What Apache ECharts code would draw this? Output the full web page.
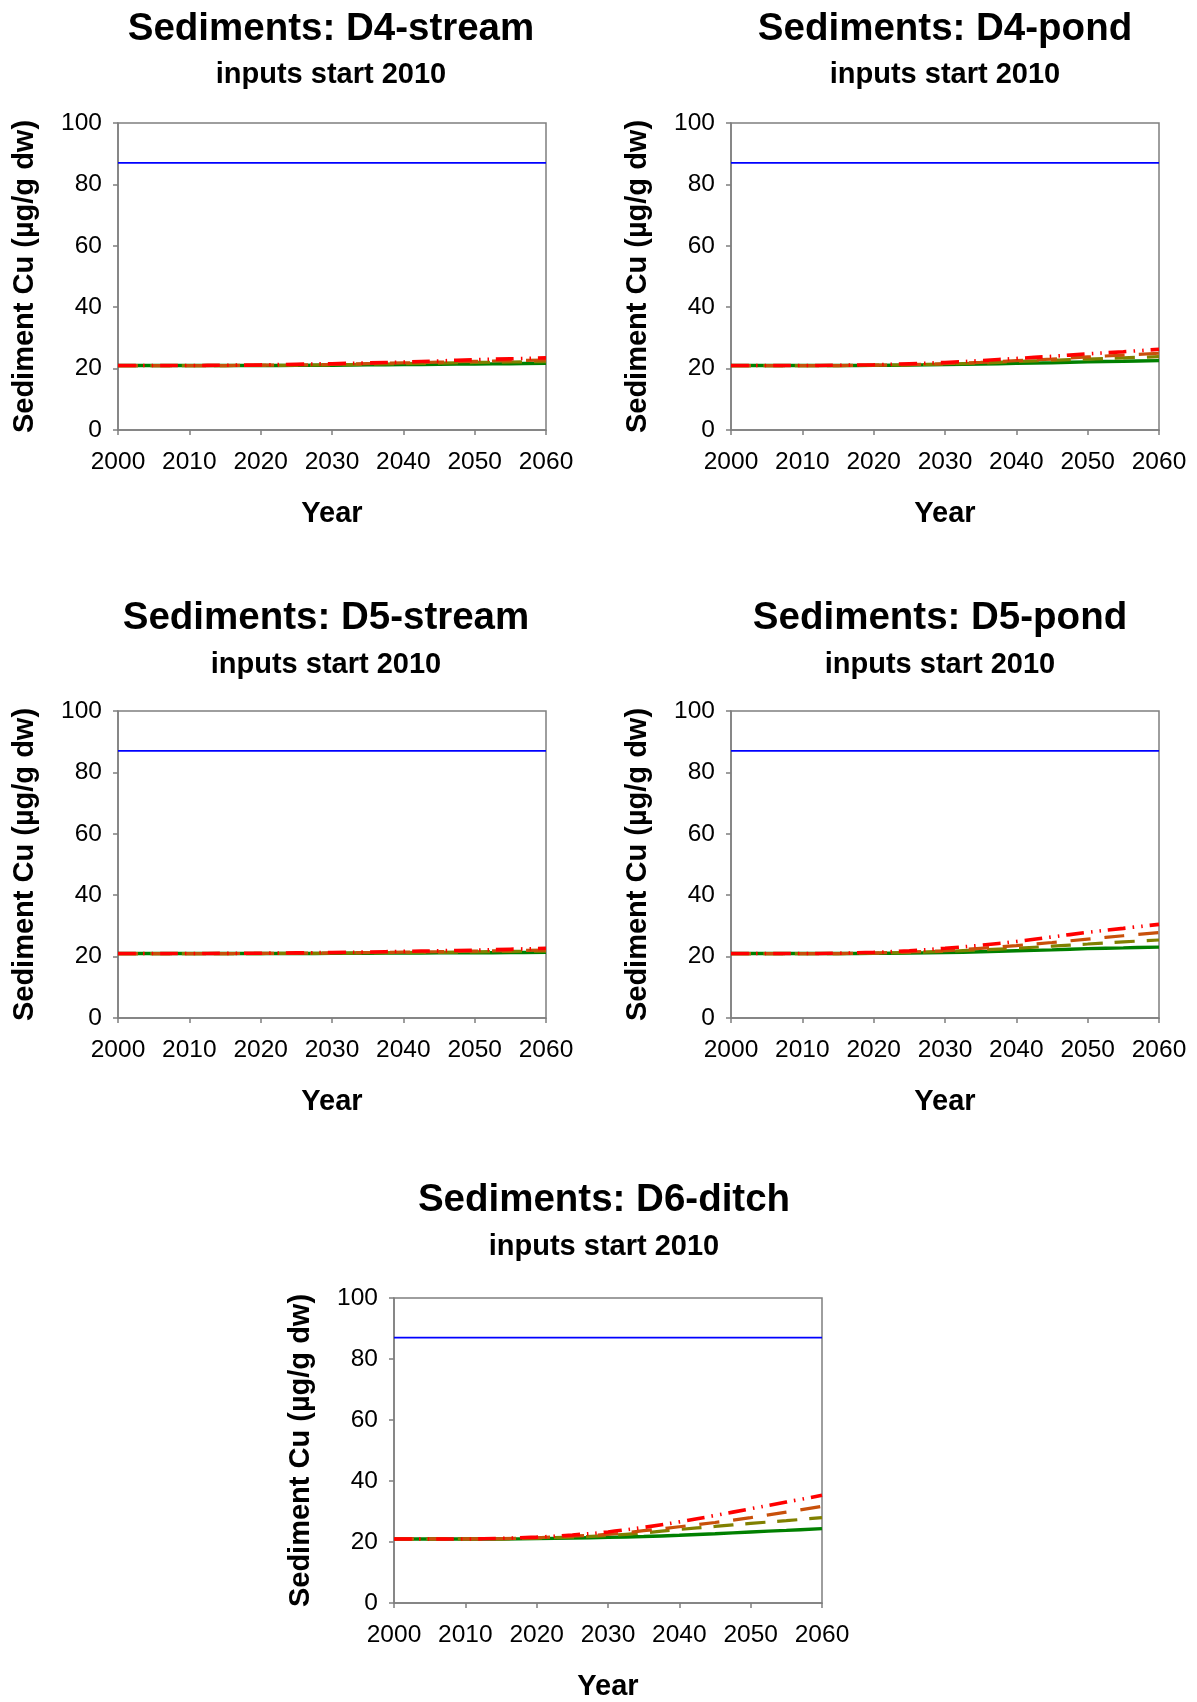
<!DOCTYPE html>
<html>
<head>
<meta charset="utf-8">
<style>
  html, body { margin: 0; padding: 0; background: #ffffff; }
  #chart { width: 1197px; height: 1702px; }
</style>
<script src="https://cdn.jsdelivr.net/npm/echarts@6/dist/echarts.min.js"></script>
</head>
<body>
<div id="chart"></div>
<script>
// ---------------- DATA ----------------
const years = [2000, 2005, 2010, 2015, 2020, 2025, 2030, 2035, 2040, 2045, 2050, 2055, 2060];
const xTicks = [2000, 2010, 2020, 2030, 2040, 2050, 2060];
const yTicks = [0, 20, 40, 60, 80, 100];
const thresholdYears = [2000, 2060];
const thresholdValues = [87, 87];

const panelTitles = ["Sediments: D4-stream", "Sediments: D4-pond", "Sediments: D5-stream", "Sediments: D5-pond", "Sediments: D6-ditch"];
const panelSubtitle = "inputs start 2010";
const xAxisTitle = "Year";
const yAxisTitle = "Sediment Cu (µg/g dw)";

// D4-stream
const d4StreamGreen = [21, 21, 21, 21, 21, 21.05, 21.1, 21.2, 21.3, 21.4, 21.5, 21.6, 21.7];
const d4StreamOlive = [21, 21, 21, 21, 21.05, 21.1, 21.25, 21.4, 21.6, 21.8, 22.0, 22.15, 22.3];
const d4StreamBrown = [21, 21, 21, 21, 21.1, 21.2, 21.35, 21.6, 21.85, 22.1, 22.35, 22.6, 22.8];
const d4StreamRed   = [21, 21, 21, 21.1, 21.2, 21.4, 21.6, 21.85, 22.1, 22.5, 22.9, 23.2, 23.5];
// D4-pond
const d4PondGreen = [21, 21, 21, 21, 21.05, 21.15, 21.3, 21.45, 21.7, 21.9, 22.2, 22.4, 22.6];
const d4PondOlive = [21, 21, 21, 21, 21.1, 21.25, 21.5, 21.8, 22.3, 22.7, 23.1, 23.5, 23.9];
const d4PondBrown = [21, 21, 21, 21, 21.1, 21.3, 21.6, 22.0, 22.6, 23.1, 23.8, 24.4, 25.0];
const d4PondRed   = [21, 21, 21, 21.1, 21.25, 21.6, 22.0, 22.6, 23.3, 24.0, 24.8, 25.5, 26.3];
// D5-stream
const d5StreamGreen = [21, 21, 21, 21, 21, 21, 21.05, 21.1, 21.15, 21.2, 21.25, 21.3, 21.4];
const d5StreamOlive = [21, 21, 21, 21, 21, 21.05, 21.1, 21.2, 21.3, 21.4, 21.55, 21.7, 21.8];
const d5StreamBrown = [21, 21, 21, 21, 21.05, 21.1, 21.2, 21.3, 21.45, 21.6, 21.8, 21.95, 22.1];
const d5StreamRed   = [21, 21, 21, 21.05, 21.1, 21.2, 21.35, 21.5, 21.7, 21.9, 22.1, 22.4, 22.7];
// D5-pond
const d5PondGreen = [21, 21, 21, 21, 21.05, 21.15, 21.3, 21.6, 21.9, 22.2, 22.6, 22.85, 23.1];
const d5PondOlive = [21, 21, 21, 21, 21.1, 21.35, 21.7, 22.2, 22.7, 23.4, 24.1, 24.8, 25.4];
const d5PondBrown = [21, 21, 21, 21, 21.15, 21.5, 21.9, 22.7, 23.6, 24.6, 25.7, 26.8, 27.8];
const d5PondRed   = [21, 21, 21, 21.1, 21.4, 21.9, 22.7, 23.7, 24.9, 26.4, 27.9, 29.2, 30.5];
// D6-ditch
const d6DitchGreen = [21, 21, 21, 21, 21.1, 21.3, 21.5, 21.8, 22.2, 22.7, 23.3, 23.8, 24.4];
const d6DitchOlive = [21, 21, 21, 21.05, 21.3, 21.6, 22.1, 23.0, 24.1, 25.1, 26.1, 27.0, 28.0];
const d6DitchBrown = [21, 21, 21, 21.1, 21.4, 21.9, 22.5, 23.7, 25.0, 26.4, 28.0, 29.8, 31.7];
const d6DitchRed   = [21, 21, 21, 21.2, 21.6, 22.3, 23.3, 24.8, 26.6, 28.7, 30.9, 33.1, 35.3];

// ---------------- LAYOUT / STYLE ----------------
const FONT = "'Liberation Sans', Arial, Helvetica, sans-serif";
const grids = [
  { left: 118, top: 123, width: 428, height: 307 },
  { left: 731, top: 123, width: 428, height: 307 },
  { left: 118, top: 711, width: 428, height: 307 },
  { left: 731, top: 711, width: 428, height: 307 },
  { left: 394, top: 1298, width: 428, height: 307 }
];
const titlePos = [
  { x: 331, t: 29, s: 75 },
  { x: 945, t: 29, s: 75 },
  { x: 326, t: 618, s: 665 },
  { x: 940, t: 618, s: 665 },
  { x: 604, t: 1200, s: 1247 }
];
const panelSeries = [
  [d4StreamGreen, d4StreamOlive, d4StreamBrown, d4StreamRed],
  [d4PondGreen, d4PondOlive, d4PondBrown, d4PondRed],
  [d5StreamGreen, d5StreamOlive, d5StreamBrown, d5StreamRed],
  [d5PondGreen, d5PondOlive, d5PondBrown, d5PondRed],
  [d6DitchGreen, d6DitchOlive, d6DitchBrown, d6DitchRed]
];
const seriesStyles = [
  { color: '#008000', width: 3.4, type: 'solid' },
  { color: '#808000', width: 3.2, type: [20, 12] },
  { color: '#c8500a', width: 3.2, type: [20, 14] },
  { color: '#ff0000', width: 3.6, type: [18, 7, 1.5, 7, 1.5, 7] }
];
const AXIS_GREY = '#7f7f7f';

const option = {
  animation: false,
  backgroundColor: '#ffffff',
  textStyle: { fontFamily: FONT },
  grid: [], xAxis: [], yAxis: [], series: [], graphic: []
};

grids.forEach((g, i) => {
  option.grid.push(Object.assign({ show: true, borderColor: AXIS_GREY, borderWidth: 1.5, backgroundColor: 'transparent' }, g));
  option.xAxis.push({
    gridIndex: i, type: 'value', min: xTicks[0], max: xTicks[xTicks.length - 1], interval: 10,
    name: xAxisTitle, nameLocation: 'middle', nameGap: 69,
    nameTextStyle: { fontFamily: FONT, fontSize: 29, fontWeight: 'bold', color: '#000' },
    axisLine: { show: true, onZero: false, lineStyle: { color: AXIS_GREY, width: 1.5 } },
    axisTick: { show: true, inside: false, length: 5, lineStyle: { color: AXIS_GREY, width: 1.5 } },
    axisLabel: { margin: 20, fontFamily: FONT, fontSize: 24.5, color: '#000', formatter: v => String(v) },
    splitLine: { show: false }
  });
  option.yAxis.push({
    gridIndex: i, type: 'value', min: yTicks[0], max: yTicks[yTicks.length - 1], interval: 20,
    name: yAxisTitle, nameLocation: 'middle', nameGap: 79,
    nameTextStyle: { fontFamily: FONT, fontSize: 29, fontWeight: 'bold', color: '#000' },
    axisLine: { show: true, onZero: false, lineStyle: { color: AXIS_GREY, width: 1.5 } },
    axisTick: { show: true, inside: false, length: 5, lineStyle: { color: AXIS_GREY, width: 1.5 } },
    axisLabel: { margin: 16, fontFamily: FONT, fontSize: 24.5, color: '#000', formatter: v => String(v) },
    splitLine: { show: false }
  });
  option.series.push({
    type: 'line', xAxisIndex: i, yAxisIndex: i, name: 'threshold',
    data: thresholdYears.map((y, k) => [y, thresholdValues[k]]),
    showSymbol: false, symbol: 'none', silent: true,
    lineStyle: { color: '#0000ff', width: 1.6 }
  });
  panelSeries[i].forEach((arr, s) => {
    const st = seriesStyles[s];
    option.series.push({
      type: 'line', xAxisIndex: i, yAxisIndex: i,
      data: years.map((y, k) => [y, arr[k]]),
      showSymbol: false, symbol: 'none', smooth: 0.35, silent: true,
      lineStyle: { color: st.color, width: st.width, type: st.type, cap: 'butt' }
    });
  });
  const tp = titlePos[i];
  option.graphic.push({
    type: 'text', x: tp.x, y: tp.t, silent: true,
    style: { text: panelTitles[i], fontFamily: FONT, fontSize: 38.5, fontWeight: 'bold', fill: '#000', align: 'center', verticalAlign: 'middle' }
  });
  option.graphic.push({
    type: 'text', x: tp.x, y: tp.s, silent: true,
    style: { text: panelSubtitle, fontFamily: FONT, fontSize: 29, fontWeight: 'bold', fill: '#000', align: 'center', verticalAlign: 'middle' }
  });
});

const chart = echarts.init(document.getElementById('chart'), null, { renderer: 'canvas', width: 1197, height: 1702 });
chart.setOption(option);
</script>
</body>
</html>
